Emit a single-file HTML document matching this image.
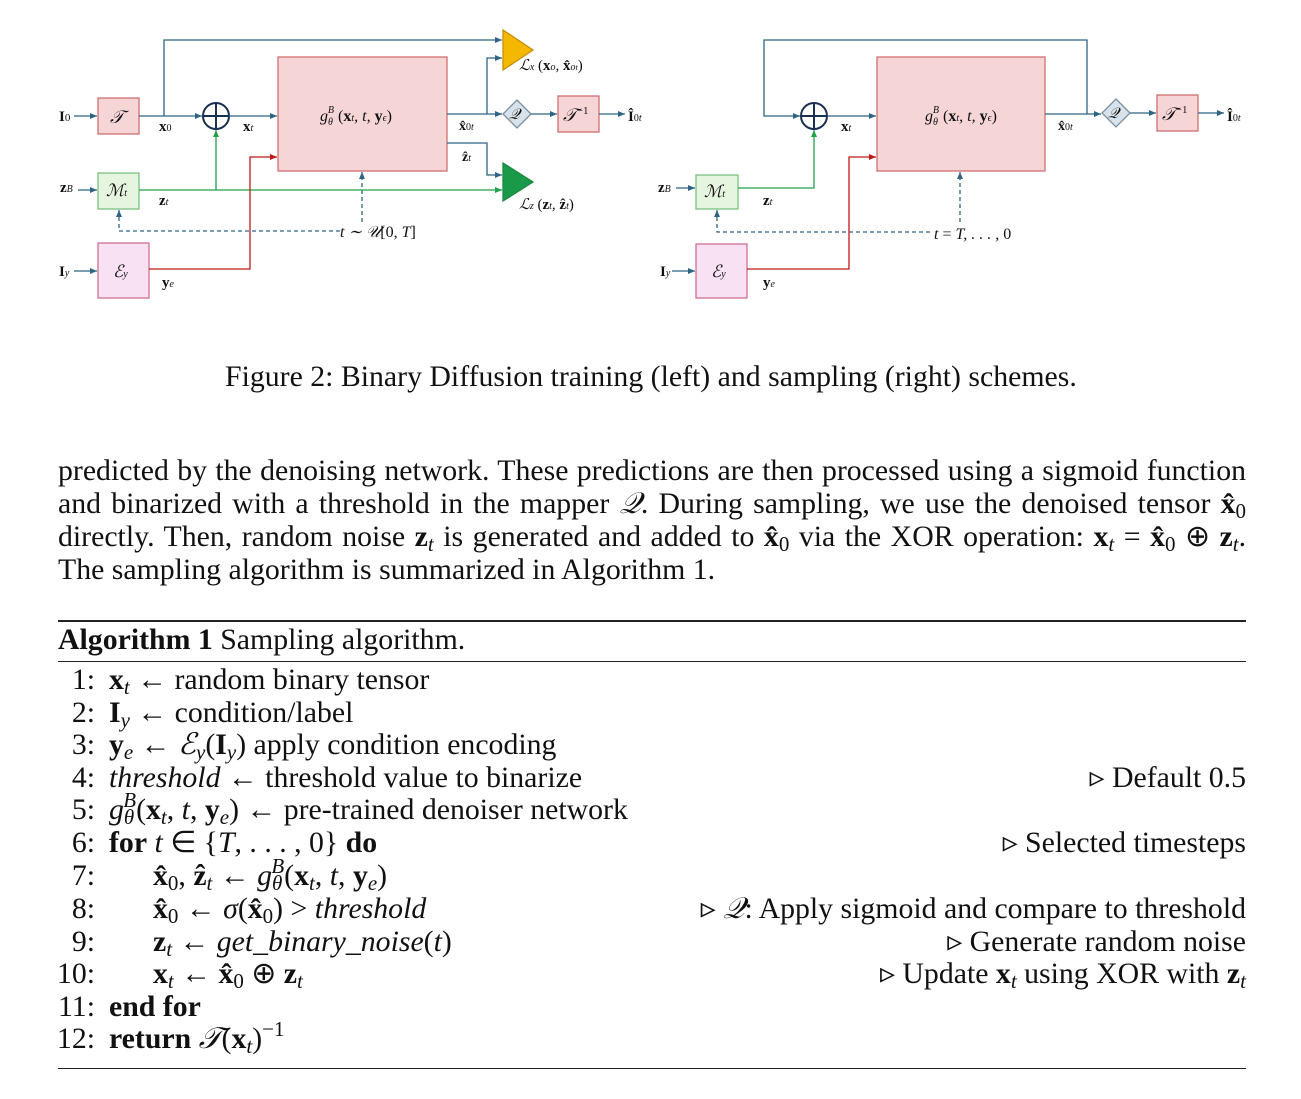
<!DOCTYPE html>
<html><head><meta charset="utf-8"><style>
body{margin:0;background:#fff;width:1301px;height:1099px;position:relative;overflow:hidden;font-family:"Liberation Serif",serif;color:#111}
.t{position:absolute;white-space:nowrap;font-size:29.8px;line-height:30px}
.j{position:absolute;left:58px;width:1188px;font-size:29.8px;line-height:30px;text-align:justify;text-align-last:justify;white-space:nowrap}
.n{position:absolute;width:40px;text-align:right;left:55px}
.r{position:absolute;right:55px;text-align:right}
i{font-style:italic}
.s{font-size:21px;vertical-align:-5px;line-height:0}
.si{font-size:21px;vertical-align:-5px;line-height:0;font-style:italic}
sub,sup{line-height:0}
.rule{position:absolute;left:58px;width:1188px;background:#222}
svg text{font-family:"Liberation Serif",serif}
</style></head><body>
<svg width="1301" height="320" style="position:absolute;left:0;top:0" font-size="14">
<defs>
<marker id="ab" markerWidth="8" markerHeight="8" refX="7" refY="4" orient="auto" markerUnits="userSpaceOnUse"><path d="M0,1 L7,4 L0,7z" fill="#2e6585"/></marker>
<marker id="ag" markerWidth="8" markerHeight="8" refX="7" refY="4" orient="auto" markerUnits="userSpaceOnUse"><path d="M0,1 L7,4 L0,7z" fill="#22a04a"/></marker>
<marker id="ar" markerWidth="8" markerHeight="8" refX="7" refY="4" orient="auto" markerUnits="userSpaceOnUse"><path d="M0,1 L7,4 L0,7z" fill="#c01818"/></marker>
</defs>
<g fill="none" stroke-width="1.3">
<rect x="98" y="98" width="41" height="36" fill="#f5d5d5" stroke="#d07070"/>
<rect x="278" y="57" width="169" height="114" fill="#f5d5d5" stroke="#d07070"/>
<rect x="98" y="173" width="41" height="36" fill="#e6f5e0" stroke="#7cc080"/>
<rect x="98" y="243" width="51" height="55" fill="#f7e1f2" stroke="#d07090"/>
<rect x="558" y="96" width="41" height="36" fill="#f5d5d5" stroke="#d07070"/>
<path d="M517,100 L531,114 L517,128 L503,114z" fill="#d8e2ea" stroke="#7890a0"/>
<path d="M503,30 L533,50 L503,70z" fill="#f5b800" stroke="#c89000"/>
<path d="M503,163 L533,182 L503,201z" fill="#1a9a48" stroke="#1a8a40"/>
<circle cx="216" cy="116" r="13" stroke="#1a3050" stroke-width="2"/>
<path d="M203,116 H229 M216,103 V129" stroke="#1a3050" stroke-width="2"/>
<g stroke="#2e6585">
<path d="M74,116 H97" marker-end="url(#ab)"/>
<path d="M139,116 H202" marker-end="url(#ab)"/>
<path d="M164,116 V40 H502" marker-end="url(#ab)"/>
<path d="M229,116 H277" marker-end="url(#ab)"/>
<path d="M447,114 H502" marker-end="url(#ab)"/>
<path d="M487,114 V58 H502" marker-end="url(#ab)"/>
<path d="M531,114 H557" marker-end="url(#ab)"/>
<path d="M599,114 H625" marker-end="url(#ab)"/>
<path d="M447,143 H487 V175 H502" marker-end="url(#ab)"/>
<path d="M78,190 H97" marker-end="url(#ab)"/>
<path d="M74,271 H97" marker-end="url(#ab)"/>
<path d="M340,231 H119 V210" stroke-dasharray="4,3" marker-end="url(#ab)"/>
<path d="M362,222 V172" stroke-dasharray="4,3" marker-end="url(#ab)"/>
</g>
<g stroke="#22a04a">
<path d="M139,190 H502" marker-end="url(#ag)"/>
<path d="M216,190 V130" marker-end="url(#ag)"/>
</g>
<path d="M149,269 H250 V157 H277" stroke="#c01818" marker-end="url(#ar)"/>
<rect x="877" y="57" width="168" height="114" fill="#f5d5d5" stroke="#d07070"/>
<rect x="696" y="175" width="42" height="34" fill="#e6f5e0" stroke="#7cc080"/>
<rect x="696" y="244" width="51" height="54" fill="#f7e1f2" stroke="#d07090"/>
<rect x="1157" y="95" width="41" height="36" fill="#f5d5d5" stroke="#d07070"/>
<path d="M1116,99 L1130,113 L1116,127 L1102,113z" fill="#d8e2ea" stroke="#7890a0"/>
<circle cx="814" cy="116" r="13" stroke="#1a3050" stroke-width="2"/>
<path d="M801,116 H827 M814,103 V129" stroke="#1a3050" stroke-width="2"/>
<g stroke="#2e6585">
<path d="M1087,114 V40 H764 V116 H800" marker-end="url(#ab)"/>
<path d="M827,116 H876" marker-end="url(#ab)"/>
<path d="M1045,114 H1101" marker-end="url(#ab)"/>
<path d="M1130,113 H1156" marker-end="url(#ab)"/>
<path d="M1198,113 H1224" marker-end="url(#ab)"/>
<path d="M676,188 H695" marker-end="url(#ab)"/>
<path d="M672,271 H695" marker-end="url(#ab)"/>
<path d="M930,232 H717 V210" stroke-dasharray="4,3" marker-end="url(#ab)"/>
<path d="M960,222 V172" stroke-dasharray="4,3" marker-end="url(#ab)"/>
</g>
<path d="M738,188 H814 V130" stroke="#22a04a" marker-end="url(#ag)"/>
<path d="M747,269 H849 V157 H876" stroke="#c01818" marker-end="url(#ar)"/>
</g>
<g fill="#111">
<text x="59" y="121" font-weight="bold" font-size="15">I<tspan font-size="11" font-weight="normal">0</tspan></text>
<text x="110" y="123" font-style="italic" font-size="18">𝒯</text>
<text x="159" y="131" font-weight="bold" font-size="15">x<tspan font-size="10" font-weight="normal">0</tspan></text>
<text x="243" y="131" font-weight="bold" font-size="15">x<tspan font-size="10" font-style="italic" font-weight="normal">t</tspan></text>
<text x="320" y="121" font-style="italic" font-size="16">g<tspan font-size="10" dy="4">θ</tspan><tspan font-size="10" dy="-12" dx="-5">B</tspan><tspan dy="8" font-style="normal"> (</tspan><tspan font-weight="bold" font-style="normal">x</tspan><tspan font-size="10">t</tspan>, t, <tspan font-weight="bold" font-style="normal">y</tspan><tspan font-size="10">ϵ</tspan><tspan font-style="normal">)</tspan></text>
<text x="459" y="130" font-weight="bold" font-size="14">x̂<tspan font-size="10" font-weight="normal">0<tspan font-style="italic">t</tspan></tspan></text>
<text x="462" y="161" font-weight="bold" font-size="14">ẑ<tspan font-size="10" font-style="italic" font-weight="normal">t</tspan></text>
<text x="509" y="119" font-style="italic" font-size="15">𝒬</text>
<text x="563" y="121" font-style="italic" font-size="18">𝒯<tspan font-size="11" dy="-7" font-style="normal">−1</tspan></text>
<text x="628" y="121" font-weight="bold" font-size="15">Î<tspan font-size="10" font-weight="normal">0<tspan font-style="italic">t</tspan></tspan></text>
<text x="519" y="70" font-size="15" font-style="italic">ℒ<tspan font-size="10">x</tspan><tspan font-style="normal"> (</tspan><tspan font-weight="bold" font-style="normal">x</tspan><tspan font-size="10">o</tspan>, <tspan font-weight="bold" font-style="normal">x̂</tspan><tspan font-size="10">o<tspan font-size="8">t</tspan></tspan><tspan font-style="normal">)</tspan></text>
<text x="519" y="209" font-size="15" font-style="italic">ℒ<tspan font-size="10">z</tspan><tspan font-style="normal"> (</tspan><tspan font-weight="bold" font-style="normal">z</tspan><tspan font-size="10">t</tspan>, <tspan font-weight="bold" font-style="normal">ẑ</tspan><tspan font-size="10">t</tspan><tspan font-style="normal">)</tspan></text>
<text x="60" y="192" font-weight="bold" font-size="15">z<tspan font-size="10" font-style="italic" font-weight="normal">B</tspan></text>
<text x="106" y="196" font-style="italic" font-size="17">ℳ<tspan font-size="10">t</tspan></text>
<text x="159" y="205" font-weight="bold" font-size="15">z<tspan font-size="10" font-style="italic" font-weight="normal">t</tspan></text>
<text x="340" y="237" font-style="italic" font-size="16">t ∼ 𝒰<tspan font-style="normal">[0, </tspan>T<tspan font-style="normal">]</tspan></text>
<text x="59" y="276" font-weight="bold" font-size="15">I<tspan font-size="10" font-style="italic" font-weight="normal">y</tspan></text>
<text x="113" y="277" font-style="italic" font-size="17">ℰ<tspan font-size="10">y</tspan></text>
<text x="162" y="287" font-weight="bold" font-size="15">y<tspan font-size="10" font-style="italic" font-weight="normal">e</tspan></text>

<text x="841" y="131" font-weight="bold" font-size="15">x<tspan font-size="10" font-style="italic" font-weight="normal">t</tspan></text>
<text x="925" y="121" font-style="italic" font-size="16">g<tspan font-size="10" dy="4">θ</tspan><tspan font-size="10" dy="-12" dx="-5">B</tspan><tspan dy="8" font-style="normal"> (</tspan><tspan font-weight="bold" font-style="normal">x</tspan><tspan font-size="10">t</tspan>, t, <tspan font-weight="bold" font-style="normal">y</tspan><tspan font-size="10">ϵ</tspan><tspan font-style="normal">)</tspan></text>
<text x="1058" y="130" font-weight="bold" font-size="14">x̂<tspan font-size="10" font-weight="normal">0<tspan font-style="italic">t</tspan></tspan></text>
<text x="1108" y="118" font-style="italic" font-size="15">𝒬</text>
<text x="1162" y="120" font-style="italic" font-size="18">𝒯<tspan font-size="11" dy="-7" font-style="normal">−1</tspan></text>
<text x="1227" y="121" font-weight="bold" font-size="15">Î<tspan font-size="10" font-weight="normal">0<tspan font-style="italic">t</tspan></tspan></text>
<text x="658" y="192" font-weight="bold" font-size="15">z<tspan font-size="10" font-style="italic" font-weight="normal">B</tspan></text>
<text x="704" y="197" font-style="italic" font-size="17">ℳ<tspan font-size="10">t</tspan></text>
<text x="763" y="205" font-weight="bold" font-size="15">z<tspan font-size="10" font-style="italic" font-weight="normal">t</tspan></text>
<text x="934" y="239" font-style="italic" font-size="16">t <tspan font-style="normal">=</tspan> T, . . . , <tspan font-style="normal">0</tspan></text>
<text x="660" y="276" font-weight="bold" font-size="15">I<tspan font-size="10" font-style="italic" font-weight="normal">y</tspan></text>
<text x="711" y="277" font-style="italic" font-size="17">ℰ<tspan font-size="10">y</tspan></text>
<text x="763" y="287" font-weight="bold" font-size="15">y<tspan font-size="10" font-style="italic" font-weight="normal">e</tspan></text>
</g>
</svg>

<div class="t" style="left:225px;top:362px">Figure 2: Binary Diffusion training (left) and sampling (right) schemes.</div>

<div class="j" style="top:456px">predicted by the denoising network. These predictions are then processed using a sigmoid function</div>
<div class="j" style="top:489px">and binarized with a threshold in the mapper <i>𝒬</i>. During sampling, we use the denoised tensor <b>x̂</b><span class="s">0</span></div>
<div class="j" style="top:522px">directly. Then, random noise <b>z</b><span class="si">t</span> is generated and added to <b>x̂</b><span class="s">0</span> via the XOR operation: <b>x</b><span class="si">t</span> = <b>x̂</b><span class="s">0</span> ⊕ <b>z</b><span class="si">t</span>.</div>
<div class="t" style="left:58px;top:555px">The sampling algorithm is summarized in Algorithm 1.</div>

<div class="rule" style="top:620px;height:2px"></div>
<div class="t" style="left:58px;top:625px"><b>Algorithm 1</b> Sampling algorithm.</div>
<div class="rule" style="top:661px;height:1px"></div>

<div class="t" style="left:0;top:665px;width:1301px"><span class="n">1:</span><span style="position:absolute;left:109px"><b>x</b><span class="si">t</span> ← random binary tensor</span></div>
<div class="t" style="left:0;top:698px;width:1301px"><span class="n">2:</span><span style="position:absolute;left:109px"><b>I</b><span class="si">y</span> ← condition/label</span></div>
<div class="t" style="left:0;top:730px;width:1301px"><span class="n">3:</span><span style="position:absolute;left:109px"><b>y</b><span class="si">e</span> ← <i>ℰ</i><span class="si">y</span>(<b>I</b><span class="si">y</span>) apply condition encoding</span></div>
<div class="t" style="left:0;top:763px;width:1301px"><span class="n">4:</span><span style="position:absolute;left:109px"><i>threshold</i> ← threshold value to binarize</span><span class="r">▹ Default 0.5</span></div>
<div class="t" style="left:0;top:795px;width:1301px"><span class="n">5:</span><span style="position:absolute;left:109px"><i>g</i><span class="si">θ</span><span style="font-size:21px;font-style:italic;vertical-align:12px;line-height:0;margin-left:-11px">B</span>(<b>x</b><span class="si">t</span>, <i>t</i>, <b>y</b><span class="si">e</span>) ← pre-trained denoiser network</span></div>
<div class="t" style="left:0;top:828px;width:1301px"><span class="n">6:</span><span style="position:absolute;left:109px"><b>for</b> <i>t</i> ∈ {<i>T</i>, . . . , 0} <b>do</b></span><span class="r">▹ Selected timesteps</span></div>
<div class="t" style="left:0;top:861px;width:1301px"><span class="n">7:</span><span style="position:absolute;left:153px"><b>x̂</b><span class="s">0</span>, <b>ẑ</b><span class="si">t</span> ← <i>g</i><span class="si">θ</span><span style="font-size:21px;font-style:italic;vertical-align:12px;line-height:0;margin-left:-11px">B</span>(<b>x</b><span class="si">t</span>, <i>t</i>, <b>y</b><span class="si">e</span>)</span></div>
<div class="t" style="left:0;top:894px;width:1301px"><span class="n">8:</span><span style="position:absolute;left:153px"><b>x̂</b><span class="s">0</span> ← <i>σ</i>(<b>x̂</b><span class="s">0</span>) &gt; <i>threshold</i></span><span class="r">▹ <i>𝒬</i>: Apply sigmoid and compare to threshold</span></div>
<div class="t" style="left:0;top:927px;width:1301px"><span class="n">9:</span><span style="position:absolute;left:153px"><b>z</b><span class="si">t</span> ← <i>get_binary_noise</i>(<i>t</i>)</span><span class="r">▹ Generate random noise</span></div>
<div class="t" style="left:0;top:959px;width:1301px"><span class="n">10:</span><span style="position:absolute;left:153px"><b>x</b><span class="si">t</span> ← <b>x̂</b><span class="s">0</span> ⊕ <b>z</b><span class="si">t</span></span><span class="r">▹ Update <b>x</b><span class="si">t</span> using XOR with <b>z</b><span class="si">t</span></span></div>
<div class="t" style="left:0;top:992px;width:1301px"><span class="n">11:</span><span style="position:absolute;left:109px"><b>end for</b></span></div>
<div class="t" style="left:0;top:1024px;width:1301px"><span class="n">12:</span><span style="position:absolute;left:109px"><b>return</b> <i>𝒯</i>(<b>x</b><span class="si">t</span>)<span style="font-size:21px;vertical-align:12px;line-height:0">−1</span></span></div>
<div class="rule" style="top:1068px;height:1px"></div>
</body></html>
